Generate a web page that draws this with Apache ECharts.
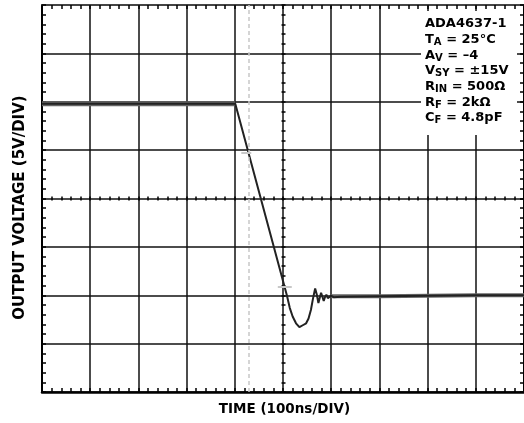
<!DOCTYPE html>
<html>
<head>
<meta charset="utf-8">
<script src="https://cdn.jsdelivr.net/npm/echarts@6/dist/echarts.min.js"></script>
<style>
html, body { margin: 0; padding: 0; background: #fff; }
#chart { width: 524px; height: 423px; }
</style>
</head>
<body>
<div id="chart"></div>
<script>
// scope trace, time in ns, output in V (5V/div, 100ns/div)
var traceT = [0, 100, 200, 300, 401, 508, 514, 520, 527, 534, 541, 548, 553, 558, 562, 566.7, 570, 573.5, 576, 579, 582, 584.5, 587, 590, 593, 596, 600, 605, 620, 700, 800, 900, 1000];
var traceV = [9.8, 9.8, 9.8, 9.8, 9.8, -10.0, -11.3, -12.2, -12.9, -13.3, -13.1, -12.9, -12.4, -11.5, -10.4, -9.3, -9.9, -10.8, -10.3, -9.75, -10.2, -10.6, -10.2, -9.95, -10.3, -10.35, -10.05, -10.2, -10.15, -10.1, -10.05, -10.0, -10.0];
// noisy parts of the trace (drawn as a wider grey band)
var bandHighT = [0, 401];
var bandHighV = [9.8, 9.8];
var bandLowT = [600, 700, 800, 900, 1000];
var bandLowV = [-10.1, -10.1, -10.05, -10.0, -10.0];
// scope cursors
var cursorT = 428.6;
var cursorLevels = [[413.5, 434.2, 4.78], [489.2, 518.2, -9.1]];
var notes = ['ADA4637-1', 'T|A| = 25°C', 'A|V| = –4', 'V|SY| = ±15V', 'R|IN| = 500Ω', 'R|F| = 2kΩ', 'C|F| = 4.8pF'];

var myChart = echarts.init(document.getElementById('chart'));

function pairs(xs, ys) {
    return xs.map(function (x, i) { return [x, ys[i]]; });
}

var tickStyle = {color: '#000', width: 1.5};

function scaleX(extra) {
    var a = {
        type: 'value', min: 0, max: 1000, interval: 100,
        axisLine: {show: true, onZero: false, lineStyle: {color: '#000', width: 2}},
        axisTick: {show: true, inside: true, length: 4, lineStyle: tickStyle},
        minorTick: {show: true, splitNumber: 5, length: 4, lineStyle: tickStyle},
        splitLine: {show: false},
        axisLabel: {show: false}
    };
    return Object.assign(a, extra);
}
function scaleY(extra) {
    var a = {
        type: 'value', min: -20, max: 20, interval: 5,
        axisLine: {show: true, onZero: false, lineStyle: {color: '#000', width: 2}},
        axisTick: {show: true, inside: true, length: 4, lineStyle: tickStyle},
        minorTick: {show: true, splitNumber: 5, length: 4, lineStyle: tickStyle},
        splitLine: {show: false},
        axisLabel: {show: false}
    };
    return Object.assign(a, extra);
}

var noteText = notes.map(function (s) {
    var p = s.split('|');
    if (p.length == 1) return '{m|' + p[0] + '}';
    return '{m|' + p[0] + '}{s|' + p[1] + '}{m|' + p[2] + '}';
}).join('\n');

var markData = [
    {xAxis: cursorT, lineStyle: {color: '#c8c8c8', width: 1.5, type: [4, 3]}}
];
cursorLevels.forEach(function (c) {
    markData.push([{coord: [c[0], c[2]], lineStyle: {color: '#c8c8c8', width: 2, type: 'solid'}}, {coord: [c[1], c[2]]}]);
});

myChart.setOption({
    animation: false,
    grid: {left: 42, top: 5, width: 483, height: 387},
    xAxis: [
        scaleX({position: 'bottom', axisLine: {show: true, onZero: false, lineStyle: {color: '#000', width: 2.5}},
                splitLine: {show: true, lineStyle: {color: '#111', width: 1.5}}}),
        scaleX({position: 'top', axisLine: {show: true, onZero: false, lineStyle: {color: '#444', width: 2}}}),
        scaleX({position: 'bottom', offset: -191.5, axisLine: {show: false, onZero: false}})
    ],
    yAxis: [
        scaleY({position: 'left', splitLine: {show: true, lineStyle: {color: '#111', width: 1.5}}}),
        scaleY({position: 'right'}),
        scaleY({position: 'left', offset: -239.5, axisLine: {show: false, onZero: false}})
    ],
    series: [
        {type: 'line', xAxisIndex: 0, yAxisIndex: 0, data: pairs(bandHighT, bandHighV), symbol: 'none',
         lineStyle: {color: '#666', width: 5}, silent: true},
        {type: 'line', xAxisIndex: 0, yAxisIndex: 0, data: pairs(bandLowT, bandLowV), symbol: 'none',
         lineStyle: {color: '#666', width: 4}, silent: true},
        {type: 'line', xAxisIndex: 0, yAxisIndex: 0, data: pairs(traceT, traceV), symbol: 'none',
         lineStyle: {color: '#222', width: 2}, silent: true,
         markLine: {silent: true, symbol: ['none', 'none'], label: {show: false}, data: markData}}
    ],
    graphic: [
        {type: 'rect', shape: {x: 421, y: 11, width: 96, height: 124}, style: {fill: '#fff'}, z: 50},
        {type: 'text', x: 425, y: 16, z: 100,
         style: {text: noteText, fill: '#000',
                 rich: {
                     m: {fontFamily: 'DejaVu Sans', fontWeight: 'bold', fontSize: 13, lineHeight: 15.7, verticalAlign: 'middle'},
                     s: {fontFamily: 'DejaVu Sans', fontWeight: 'bold', fontSize: 10, lineHeight: 6, verticalAlign: 'bottom'}
                 }}},
        {type: 'text', x: 284.5, y: 409.5, z: 100,
         style: {text: 'TIME (100ns/DIV)', fill: '#000', fontFamily: 'DejaVu Sans', fontWeight: 'bold', fontSize: 13.5,
                 textAlign: 'center', textVerticalAlign: 'middle'}},
        {type: 'text', x: 20.5, y: 207.5, rotation: Math.PI / 2, z: 100,
         style: {text: 'OUTPUT VOLTAGE (5V/DIV)', fill: '#000', fontFamily: 'DejaVu Sans', fontWeight: 'bold', fontSize: 15,
                 textAlign: 'center', textVerticalAlign: 'middle'}}
    ]
});
</script>
</body>
</html>
